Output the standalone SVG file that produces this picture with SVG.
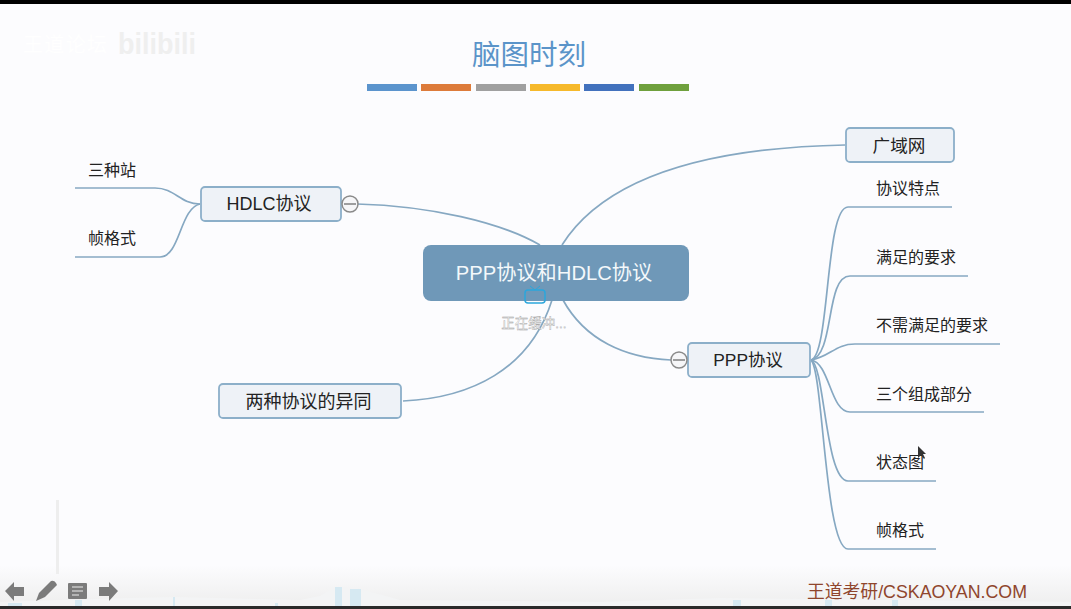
<svg xmlns="http://www.w3.org/2000/svg" width="1071" height="609" viewBox="0 0 1071 609">
<style>
text{font-family:"Liberation Sans","Noto Sans CJK SC",sans-serif;fill:#222}
.t{font-size:16px}
.n{font-size:18px;text-anchor:middle}
.c{fill:none;stroke:#86a8c2;stroke-width:1.7}
.b{fill:#eef2f7;stroke:#8cafc9;stroke-width:1.8}
.col{fill:#f6f6f8;stroke:#8a8a8a;stroke-width:1.5}
.ic{fill:#7b7b7b}
</style>
<defs><linearGradient id="fade" x1="0" y1="0" x2="0" y2="1"><stop offset="0" stop-color="#fcfcfe"/><stop offset="1" stop-color="#eeeeee"/></linearGradient></defs>
<rect width="1071" height="609" fill="#fcfcfe"/>
<rect y="0" width="1071" height="4" fill="#000"/>
<rect y="565" width="1071" height="41" fill="url(#fade)"/>
<path d="M0 606V602L60 600L130 598L175 597L300 600L320 596L335 587L360 589L400 600L600 602L720 598L900 600L1071 602V606Z" fill="#f3f4f5"/>
<rect y="606" width="1071" height="3" fill="#2a2a2a"/>
<rect x="56" y="500" width="3" height="74" fill="#eeeeee"/>
<g fill="#d6e9f2">
<rect x="8" y="603" width="14" height="3"/><rect x="75" y="600" width="7" height="6"/><rect x="173" y="597" width="2" height="9"/><rect x="335" y="587" width="7" height="19"/><rect x="350" y="589" width="11" height="17"/><rect x="275" y="603" width="3" height="3"/><rect x="733" y="600" width="8" height="6"/><rect x="825" y="600" width="7" height="6"/><rect x="892" y="600" width="6" height="6"/>
</g>
<text x="23" y="52" font-size="20" textLength="84" style="fill:#ffffff">王道论坛</text>
<text x="118" y="54" font-size="30" font-weight="bold" textLength="78" lengthAdjust="spacingAndGlyphs" style="fill:#efefef">bilibili</text>
<text x="529" y="65" font-size="28.5" text-anchor="middle" style="fill:#5b94c9">脑图时刻</text>
<g>
<rect x="367" y="84" width="50" height="7" fill="#5b94cd"/>
<rect x="421" y="84" width="50" height="7" fill="#dd7b3a"/>
<rect x="476" y="84" width="50" height="7" fill="#a0a0a0"/>
<rect x="530" y="84" width="50" height="7" fill="#f6b92b"/>
<rect x="584" y="84" width="50" height="7" fill="#4271bd"/>
<rect x="639" y="84" width="50" height="7" fill="#6fa03d"/>
</g>
<g id="connectors">
<path class="c" d="M357 204C430 206 500 222 540 245"/>
<path class="c" d="M562 245C600 185 690 148 845 145"/>
<path class="c" d="M403 401C470 398 530 370 552 300"/>
<path class="c" d="M563 300C585 340 625 358 671 360"/>
<path class="c" d="M200 204C180 204 175 188 155 188H75"/>
<path class="c" d="M200 204C180 208 180 257 160 257H75"/>
<path class="c" d="M811 360C830 355 825 207 848 207H952"/>
<path class="c" d="M811 360C835 355 825 276 850 276H968"/>
<path class="c" d="M811 360C830 357 835 344 855 344H1000"/>
<path class="c" d="M811 360C830 363 830 412 850 412H984"/>
<path class="c" d="M811 360C825 365 825 481 848 481H936"/>
<path class="c" d="M811 360C823 370 825 549 848 549H936"/>
</g>
<g id="root"><rect x="423" y="245" width="266" height="56" rx="8" fill="#6f98b8"/><text x="554" y="280" font-size="20.2" text-anchor="middle" style="fill:#f4f8fb">PPP协议和HDLC协议</text></g>
<g id="buffering"><path d="M530 286L535 290L540 286" fill="none" stroke="#2ba6dc" stroke-width="1"/><rect x="525" y="290" width="20" height="13" rx="3" fill="none" stroke="#2ba6dc" stroke-width="1.5"/><text x="534" y="328" font-size="13.5" text-anchor="middle" style="fill:#ffffff;stroke:#999;stroke-width:.35">正在缓冲...</text></g>
<g id="hdlc"><rect class="b" x="201" y="187" width="140" height="34" rx="4"/><text class="n" x="269" y="210">HDLC协议</text><circle class="col" cx="350" cy="204" r="8"/><path d="M344 204H356" stroke="#777" stroke-width="1.4"/></g>
<g id="wan"><rect class="b" x="846" y="128" width="108" height="34" rx="4"/><text class="n" x="899" y="152" style="font-size:17.6px">广域网</text></g>
<g id="same"><rect class="b" x="219" y="384" width="182" height="34" rx="4"/><text class="n" x="308.5" y="408">两种协议的异同</text></g>
<g id="ppp"><rect class="b" x="688" y="343" width="122" height="34" rx="4"/><text class="n" x="748" y="366" style="font-size:17.4px">PPP协议</text><circle class="col" cx="679" cy="360" r="8"/><path d="M673 360H685" stroke="#777" stroke-width="1.4"/></g>
<g id="l1"><text class="t" x="88" y="176">三种站</text></g>
<g id="l2"><text class="t" x="88" y="244">帧格式</text></g>
<g id="r1"><text class="t" x="876" y="194">协议特点</text></g>
<g id="r2"><text class="t" x="876" y="263">满足的要求</text></g>
<g id="r3"><text class="t" x="876" y="331">不需满足的要求</text></g>
<g id="r4"><text class="t" x="876" y="400">三个组成部分</text></g>
<g id="r5"><text class="t" x="876" y="468">状态图</text></g>
<g id="r6"><text class="t" x="876" y="536">帧格式</text></g>
<path d="M918 446L918 458L921 455L924 459L925 458L923 454L926 454Z" fill="#333"/>
<g class="ic">
<path d="M5 591L14 582V587H24V596H14V601Z"/>
<path d="M36 601L39 593L51 581Q54 580 56 583L57 585L45 597Z"/>
<rect x="68" y="583" width="19" height="16" rx="1"/>
<path d="M118 591L109 582V587H99V596H109V601Z"/>
</g>
<path d="M72 587H83M72 591H83M72 595H79" stroke="#eee" stroke-width="1.2"/>
<text x="807" y="598" font-size="17.8" style="fill:#8f452c">王道考研/CSKAOYAN.COM</text>
</svg>
